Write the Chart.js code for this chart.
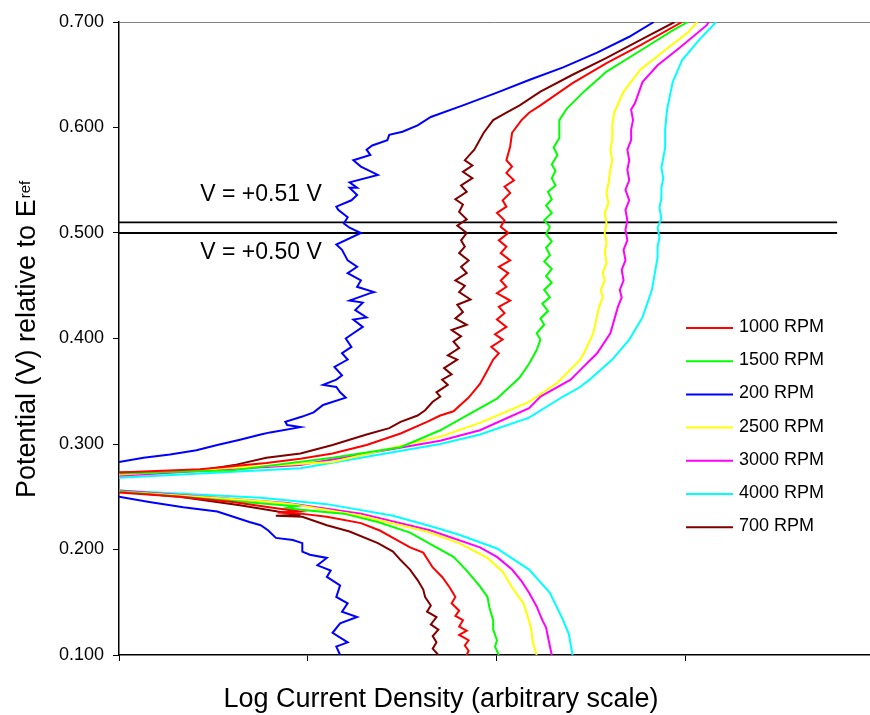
<!DOCTYPE html>
<html>
<head>
<meta charset="utf-8">
<title>Polarisation curves vs rotation rate</title>
<script src="https://cdn.jsdelivr.net/npm/chart.js@4/dist/chart.umd.min.js"></script>
<style>
  html, body { margin: 0; padding: 0; background: #fff; }
  canvas { display: block; }
</style>
</head>
<body>
<canvas id="polChart" width="870" height="715"></canvas>
<script>
// rotation rates, in the order the legend lists them
const rpmLabels = ['1000 RPM', '1500 RPM', '200 RPM', '2500 RPM', '3000 RPM', '4000 RPM', '700 RPM'];
const rpmColors = ['#ff0000', '#00ff00', '#0000ff', '#ffff00', '#ff00ff', '#00ffff', '#800000'];

// anodic branches: [log current (arb.), potential V]
const up1000 = [[0,0.273],[0.43,0.276],[0.78,0.282],[0.96,0.286],[1.13,0.291],[1.31,0.299],[1.49,0.310],[1.63,0.321],[1.70,0.327],[1.77,0.331],[1.85,0.344],[1.91,0.357],[1.95,0.370],[1.98,0.380],[2.01,0.386],[1.97,0.392],[2.03,0.399],[1.99,0.404],[2.05,0.411],[2.00,0.418],[2.04,0.424],[2.01,0.430],[2.07,0.436],[2.00,0.443],[2.05,0.449],[2.02,0.455],[2.06,0.462],[2.01,0.468],[2.07,0.474],[2.02,0.481],[2.05,0.487],[2.01,0.493],[2.06,0.500],[2.02,0.506],[2.04,0.512],[2.00,0.519],[2.05,0.525],[2.03,0.531],[2.07,0.538],[2.04,0.544],[2.09,0.550],[2.05,0.557],[2.08,0.563],[2.05,0.569],[2.07,0.582],[2.08,0.595],[2.13,0.607],[2.17,0.614],[2.23,0.621],[2.40,0.642],[2.58,0.661],[2.76,0.678],[2.98,0.700]];
const up1500 = [[0,0.272],[0.60,0.275],[1.13,0.287],[1.49,0.297],[1.70,0.313],[1.82,0.325],[2.00,0.343],[2.12,0.363],[2.17,0.376],[2.21,0.389],[2.23,0.399],[2.21,0.405],[2.25,0.413],[2.23,0.419],[2.27,0.426],[2.24,0.433],[2.28,0.439],[2.25,0.446],[2.29,0.453],[2.26,0.459],[2.29,0.466],[2.25,0.473],[2.28,0.479],[2.26,0.486],[2.29,0.492],[2.26,0.499],[2.28,0.506],[2.25,0.512],[2.29,0.519],[2.26,0.526],[2.29,0.532],[2.27,0.539],[2.31,0.545],[2.29,0.552],[2.31,0.559],[2.29,0.565],[2.32,0.574],[2.30,0.581],[2.33,0.590],[2.33,0.607],[2.37,0.618],[2.46,0.634],[2.58,0.653],[2.76,0.673],[2.93,0.692],[3.01,0.700]];
const up200 = [[0,0.283],[0.13,0.287],[0.27,0.290],[0.41,0.294],[0.52,0.299],[0.64,0.304],[0.75,0.309],[0.80,0.311],[0.96,0.316],[0.89,0.318],[0.88,0.321],[0.97,0.326],[1.03,0.330],[1.08,0.337],[1.20,0.344],[1.17,0.349],[1.15,0.354],[1.08,0.356],[1.15,0.361],[1.18,0.365],[1.14,0.373],[1.21,0.380],[1.18,0.386],[1.23,0.392],[1.20,0.400],[1.24,0.405],[1.29,0.411],[1.24,0.418],[1.31,0.420],[1.25,0.427],[1.29,0.434],[1.22,0.436],[1.33,0.443],[1.35,0.444],[1.26,0.449],[1.28,0.455],[1.21,0.462],[1.26,0.468],[1.21,0.474],[1.18,0.484],[1.15,0.489],[1.28,0.500],[1.22,0.505],[1.19,0.509],[1.21,0.515],[1.16,0.522],[1.15,0.525],[1.23,0.531],[1.26,0.536],[1.22,0.543],[1.26,0.543],[1.22,0.548],[1.37,0.555],[1.28,0.563],[1.24,0.569],[1.33,0.574],[1.31,0.579],[1.34,0.583],[1.42,0.588],[1.43,0.593],[1.50,0.596],[1.58,0.602],[1.65,0.610],[1.82,0.621],[2.00,0.633],[2.17,0.645],[2.35,0.657],[2.53,0.671],[2.70,0.686],[2.83,0.700]];
const up2500 = [[0,0.271],[1.13,0.283],[1.70,0.307],[1.91,0.320],[2.17,0.340],[2.32,0.358],[2.44,0.380],[2.46,0.386],[2.51,0.405],[2.54,0.430],[2.56,0.439],[2.55,0.446],[2.57,0.455],[2.56,0.462],[2.58,0.472],[2.57,0.481],[2.58,0.491],[2.57,0.500],[2.58,0.509],[2.57,0.519],[2.59,0.528],[2.58,0.538],[2.59,0.547],[2.60,0.560],[2.61,0.569],[2.60,0.579],[2.61,0.588],[2.61,0.602],[2.62,0.614],[2.67,0.634],[2.76,0.655],[2.88,0.672],[3.01,0.690],[3.06,0.700]];
const up3000 = [[0,0.270],[0.96,0.280],[1.70,0.303],[1.91,0.313],[2.17,0.334],[2.23,0.345],[2.39,0.361],[2.44,0.370],[2.53,0.386],[2.60,0.405],[2.64,0.430],[2.66,0.439],[2.65,0.446],[2.67,0.455],[2.66,0.465],[2.68,0.474],[2.67,0.484],[2.69,0.493],[2.68,0.503],[2.69,0.512],[2.68,0.522],[2.70,0.531],[2.68,0.541],[2.70,0.550],[2.69,0.560],[2.70,0.569],[2.69,0.579],[2.71,0.588],[2.71,0.598],[2.72,0.607],[2.71,0.617],[2.73,0.623],[2.77,0.643],[2.85,0.659],[2.97,0.676],[3.11,0.697],[3.12,0.700]];
const up4000 = [[0,0.268],[0.96,0.277],[1.70,0.300],[1.91,0.309],[2.17,0.325],[2.35,0.345],[2.44,0.354],[2.49,0.361],[2.61,0.380],[2.70,0.399],[2.77,0.420],[2.82,0.446],[2.85,0.477],[2.85,0.487],[2.86,0.496],[2.85,0.505],[2.87,0.514],[2.86,0.524],[2.87,0.533],[2.87,0.543],[2.88,0.552],[2.87,0.562],[2.88,0.571],[2.89,0.581],[2.89,0.598],[2.90,0.617],[2.93,0.643],[2.98,0.664],[3.07,0.683],[3.16,0.700]];
const up700 = [[0,0.273],[0.22,0.273],[0.43,0.275],[0.61,0.280],[0.78,0.287],[0.96,0.291],[1.13,0.299],[1.31,0.309],[1.43,0.315],[1.49,0.321],[1.58,0.327],[1.62,0.332],[1.66,0.340],[1.70,0.345],[1.68,0.349],[1.74,0.356],[1.71,0.361],[1.76,0.366],[1.72,0.372],[1.79,0.380],[1.74,0.384],[1.80,0.391],[1.77,0.397],[1.81,0.402],[1.76,0.408],[1.84,0.413],[1.78,0.419],[1.82,0.425],[1.79,0.432],[1.86,0.437],[1.80,0.444],[1.83,0.450],[1.78,0.455],[1.84,0.462],[1.81,0.468],[1.85,0.474],[1.80,0.481],[1.83,0.487],[1.81,0.493],[1.84,0.500],[1.79,0.507],[1.84,0.513],[1.80,0.520],[1.82,0.527],[1.78,0.532],[1.84,0.539],[1.81,0.545],[1.87,0.552],[1.82,0.558],[1.87,0.564],[1.83,0.569],[1.88,0.579],[1.93,0.595],[1.98,0.607],[2.05,0.614],[2.12,0.621],[2.23,0.634],[2.40,0.650],[2.58,0.666],[2.76,0.683],[2.94,0.700]];

// cathodic branches
const down1000 = [[0,0.254],[0.32,0.250],[0.60,0.245],[0.88,0.238],[0.95,0.236],[0.84,0.235],[0.96,0.234],[1.10,0.231],[1.28,0.225],[1.38,0.218],[1.45,0.211],[1.54,0.202],[1.61,0.197],[1.66,0.183],[1.71,0.174],[1.75,0.164],[1.78,0.155],[1.76,0.149],[1.80,0.142],[1.78,0.137],[1.82,0.133],[1.80,0.127],[1.84,0.123],[1.80,0.119],[1.85,0.114],[1.83,0.109],[1.85,0.104],[1.84,0.100]];
const down1500 = [[0,0.255],[0.60,0.246],[0.87,0.242],[0.94,0.241],[0.88,0.239],[1.19,0.234],[1.37,0.226],[1.54,0.216],[1.66,0.204],[1.77,0.193],[1.84,0.180],[1.91,0.165],[1.95,0.155],[1.96,0.145],[1.98,0.133],[1.98,0.124],[2.00,0.114],[1.99,0.108],[2.01,0.100]];
const down200 = [[0,0.250],[0.16,0.245],[0.34,0.240],[0.52,0.236],[0.69,0.226],[0.75,0.223],[0.79,0.218],[0.83,0.211],[0.92,0.209],[0.97,0.206],[0.97,0.198],[1.01,0.195],[1.10,0.192],[1.05,0.185],[1.12,0.180],[1.10,0.174],[1.17,0.166],[1.15,0.155],[1.21,0.149],[1.18,0.141],[1.26,0.136],[1.17,0.130],[1.13,0.121],[1.21,0.112],[1.15,0.108],[1.17,0.100]];
const down2500 = [[0,0.255],[0.75,0.246],[0.92,0.243],[1.28,0.232],[1.63,0.217],[1.80,0.206],[1.95,0.192],[2.03,0.179],[2.08,0.164],[2.14,0.149],[2.16,0.138],[2.18,0.126],[2.19,0.112],[2.21,0.100]];
const down3000 = [[0,0.256],[0.89,0.244],[1.28,0.234],[1.65,0.218],[1.91,0.202],[2.00,0.193],[2.08,0.181],[2.13,0.170],[2.17,0.159],[2.21,0.146],[2.24,0.133],[2.26,0.126],[2.27,0.117],[2.29,0.100]];
const down4000 = [[0,0.256],[0.75,0.249],[1.10,0.243],[1.45,0.232],[1.65,0.222],[1.80,0.214],[2.00,0.201],[2.17,0.181],[2.28,0.159],[2.35,0.133],[2.38,0.120],[2.40,0.100]];
const down700 = [[0,0.255],[0.32,0.250],[0.64,0.242],[0.84,0.236],[0.96,0.233],[0.83,0.232],[0.97,0.231],[1.10,0.223],[1.22,0.217],[1.37,0.206],[1.45,0.198],[1.49,0.190],[1.54,0.181],[1.58,0.171],[1.61,0.162],[1.62,0.155],[1.65,0.147],[1.63,0.141],[1.68,0.136],[1.65,0.129],[1.69,0.124],[1.66,0.118],[1.68,0.112],[1.66,0.106],[1.69,0.100]];

const anodic = [up1000, up1500, up200, up2500, up3000, up4000, up700];
const cathodic = [down1000, down1500, down200, down2500, down3000, down4000, down700];

// marked potentials and the span they are drawn across
const refLevels = [0.51, 0.50];
const refLabels = ['V = +0.51 V', 'V = +0.50 V'];
const refSpan = [0, 3.80];

const xTitle = 'Log Current Density (arbitrary scale)';
const yTitle = 'Potential (V) relative to E';
const yTitleSub = 'ref';

const FONT = '"Liberation Sans", Arial, Helvetica, sans-serif';

const toPoints = arr => arr.map(p => ({ x: p[0], y: p[1] }));

const datasets = [];
rpmLabels.forEach((label, i) => {
    [anodic[i], cathodic[i]].forEach(branch => {
        datasets.push({
            label: label,
            data: toPoints(branch),
            borderColor: rpmColors[i],
            borderWidth: 2,
            showLine: true,
            pointRadius: 0,
            tension: 0,
            fill: false
        });
    });
});
refLevels.forEach((v, i) => {
    datasets.push({
        label: refLabels[i],
        data: refSpan.map(x => ({ x: x, y: v })),
        borderColor: '#000',
        borderWidth: 1.8,
        showLine: true,
        pointRadius: 0,
        fill: false
    });
});

// titles, reference labels and the legend box are drawn by hand
const textLayer = {
    id: 'textLayer',
    afterDraw(chart) {
        const ctx = chart.ctx;
        const xs = chart.scales.x, ys = chart.scales.y;
        ctx.save();
        ctx.fillStyle = '#000';

        ctx.font = '27px ' + FONT;
        ctx.textAlign = 'center';
        ctx.textBaseline = 'alphabetic';
        ctx.fillText(xTitle, 441, 707);

        ctx.save();
        ctx.translate(35, 498);
        ctx.rotate(-Math.PI / 2);
        ctx.textAlign = 'left';
        ctx.fillText(yTitle, 0, 0);
        const w = ctx.measureText(yTitle).width;
        ctx.font = '15px ' + FONT;
        ctx.fillText(yTitleSub, w + 1, -5);
        ctx.restore();

        ctx.font = '23px ' + FONT;
        ctx.textAlign = 'left';
        ctx.fillText(refLabels[0], xs.getPixelForValue(0.43), ys.getPixelForValue(refLevels[0]) - 21);
        ctx.fillText(refLabels[1], xs.getPixelForValue(0.43), ys.getPixelForValue(refLevels[1]) + 26);

        ctx.font = '18px ' + FONT;
        ctx.textBaseline = 'middle';
        rpmLabels.forEach((label, i) => {
            const yy = 328 + i * 33.2;
            ctx.strokeStyle = rpmColors[i];
            ctx.lineWidth = 2;
            ctx.beginPath();
            ctx.moveTo(686, yy);
            ctx.lineTo(733, yy);
            ctx.stroke();
            ctx.fillText(label, 739, yy - 1);
        });
        ctx.restore();
    }
};

Chart.defaults.font.family = FONT;

new Chart(document.getElementById('polChart'), {
    type: 'scatter',
    data: { datasets: datasets },
    options: {
        responsive: false,
        animation: false,
        devicePixelRatio: 1,
        layout: { padding: { top: 22, right: 0, bottom: 0, left: 0 } },
        plugins: {
            legend: { display: false },
            tooltip: { enabled: false }
        },
        scales: {
            x: {
                type: 'linear',
                min: 0,
                max: 3.974,
                afterFit(scale) { scale.height = 60; },
                ticks: { display: false, stepSize: 1 },
                grid: { drawOnChartArea: false, color: '#000', tickLength: 6 },
                border: { color: '#000', width: 1.5 }
            },
            y: {
                type: 'linear',
                min: 0.1,
                max: 0.7,
                afterFit(scale) { scale.width = 119; },
                ticks: {
                    stepSize: 0.1,
                    padding: 9,
                    color: '#000',
                    font: { size: 18 },
                    callback: v => v.toFixed(3)
                },
                grid: {
                    color: c => (c.tick && c.tick.value > 0.69) ? '#808080' : 'rgba(0,0,0,0)',
                    tickColor: '#000',
                    tickLength: 6
                },
                border: { color: '#000', width: 1.5 }
            }
        }
    },
    plugins: [textLayer]
});
</script>
</body>
</html>
